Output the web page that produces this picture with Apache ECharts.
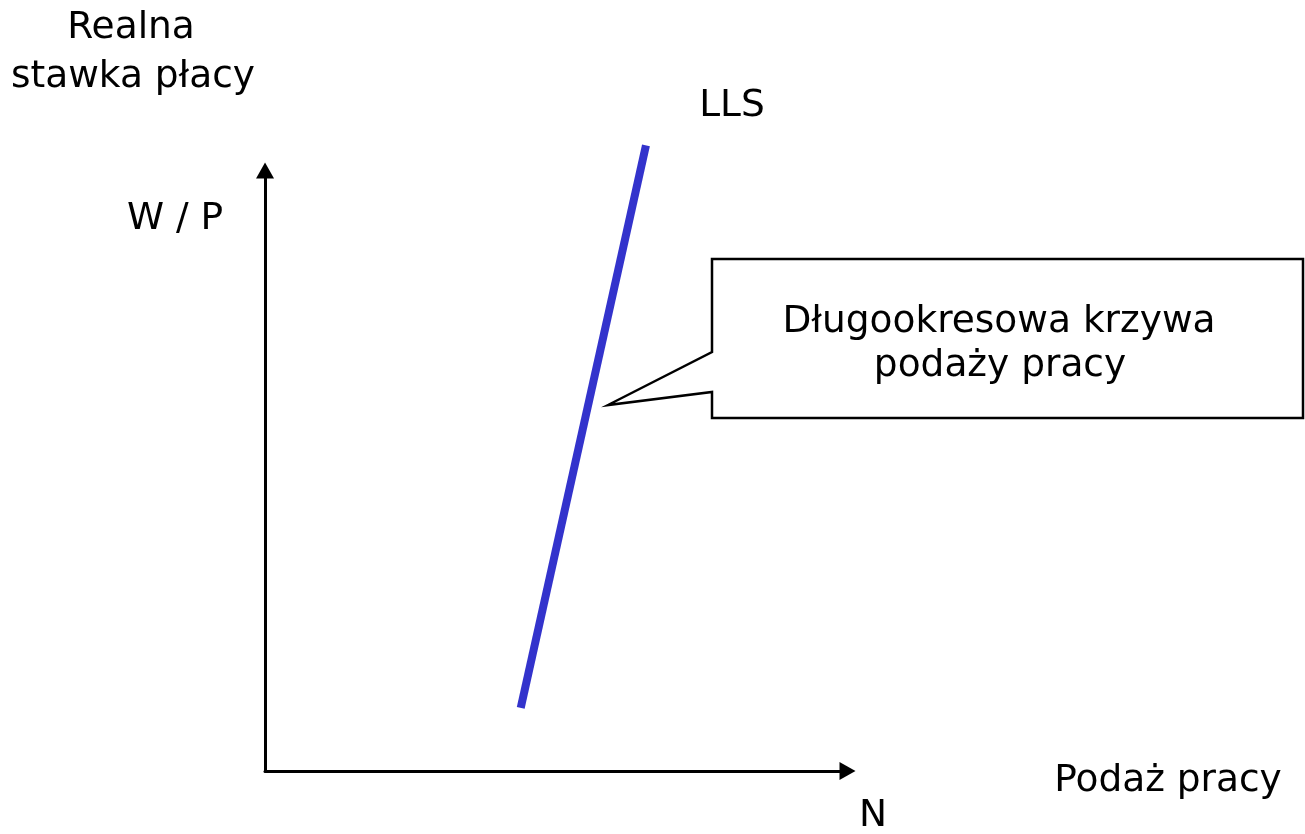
<!DOCTYPE html>
<html>
<head>
<meta charset="utf-8">
<script src="https://cdn.jsdelivr.net/npm/echarts@6/dist/echarts.min.js"></script>
<style>
  html, body { margin: 0; padding: 0; background: #fff; }
  #chart { width: 1305px; height: 834px; }
</style>
</head>
<body>
<div id="chart"></div>
<script>
// axis ranges (abstract units, no ticks shown)
const xRange = [0, 100]
const yRange = [0, 100]
// long-run labour supply curve (LLS), endpoints
const llsPoints = [[43.9, 10.5], [65.4, 104.2]]
const llsName = 'LLS'
const yTitle = ['Realna', 'stawka płacy']
const yName = 'W / P'
const xTitle = 'Podaż pracy'
const xName = 'N'
const callout = ['Długookresowa krzywa', 'podaży pracy']

const chart = echarts.init(document.getElementById('chart'))
const font = '37.5px "DejaVu Sans"'

function txt(text, x, y) {
  return {
    type: 'text', x: x, y: y,
    style: {text: text, font: font, fill: '#000', align: 'center', verticalAlign: 'middle'}
  }
}

const option = {
  animation: false,
  grid: {left: 265, right: 457.5, top: 170.5, bottom: 63},
  xAxis: {
    type: 'value', min: xRange[0], max: xRange[1],
    axisLine: {show: true, onZero: false, symbol: ['none', 'triangle'], symbolSize: [18, 16],
      lineStyle: {color: '#000', width: 3}},
    axisTick: {show: false}, axisLabel: {show: false}, splitLine: {show: false}
  },
  yAxis: {
    type: 'value', min: yRange[0], max: yRange[1],
    axisLine: {show: true, onZero: false, symbol: ['none', 'triangle'], symbolSize: [18, 16],
      lineStyle: {color: '#000', width: 3}},
    axisTick: {show: false}, axisLabel: {show: false}, splitLine: {show: false}
  },
  series: [{
    name: llsName,
    type: 'line',
    data: llsPoints,
    clip: false,
    showSymbol: false,
    lineStyle: {color: '#3333CC', width: 8, cap: 'butt'}
  }],
  graphic: [
    {
      type: 'polygon',
      shape: {points: [[712, 259], [1303, 259], [1303, 418], [712, 418], [712, 392], [608, 405], [712, 352]]},
      style: {fill: '#fff', stroke: '#000', lineWidth: 2.5, lineJoin: 'miter'},
      z: 10
    },
    txt(yTitle[0], 131, 28),
    txt(yTitle[1], 133, 77),
    txt(llsName, 732, 106),
    txt(yName, 175, 219),
    Object.assign(txt(callout[0], 999, 322), {z: 11}),
    Object.assign(txt(callout[1], 1000, 366), {z: 11}),
    txt(xTitle, 1168, 781),
    txt(xName, 873, 816)
  ]
}
chart.setOption(option)
</script>
</body>
</html>
